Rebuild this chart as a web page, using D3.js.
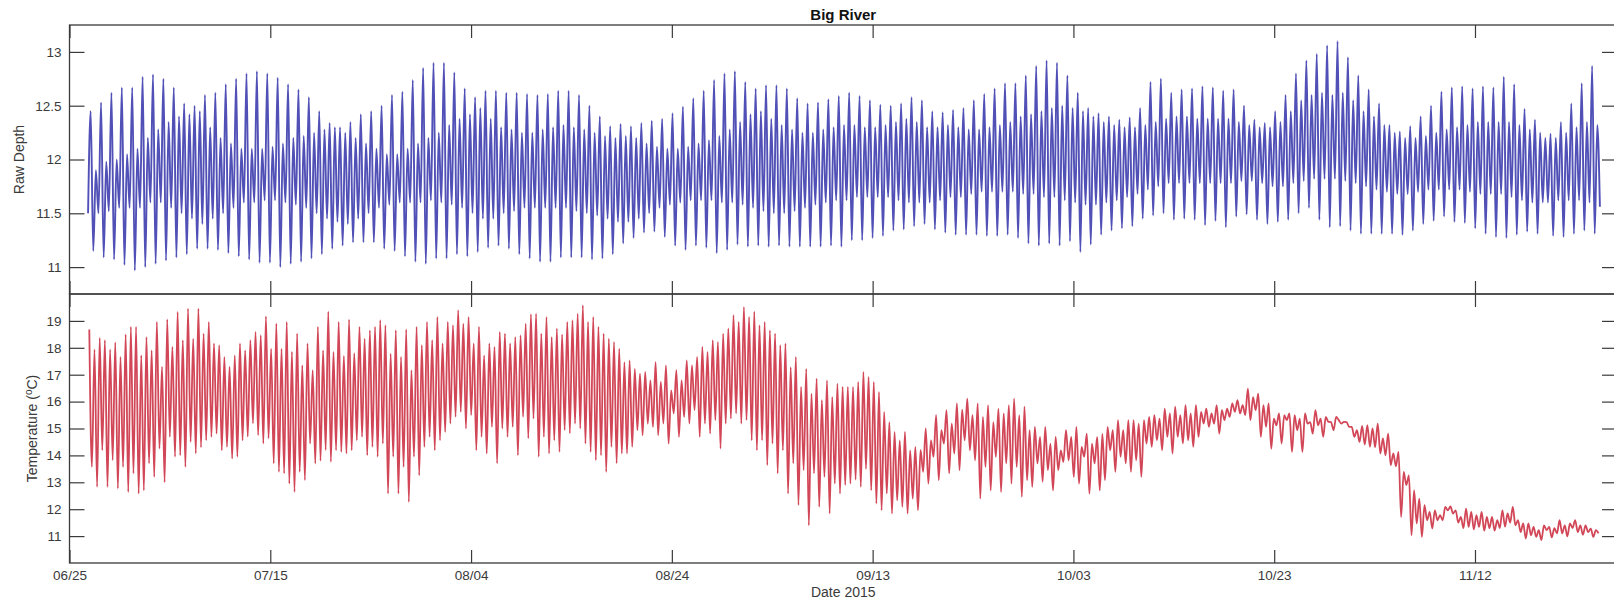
<!DOCTYPE html>
<html>
<head>
<meta charset="utf-8">
<script src="https://cdn.jsdelivr.net/npm/d3@7"></script>
<style>
  html, body { margin: 0; padding: 0; background: #fff; }
  svg { display: block; }
  text { font-family: "Liberation Sans", Arial, Helvetica, sans-serif; }
</style>
</head>
<body>
<svg id="chart" width="1614" height="603"></svg>
<script>
// ---- Axis labels and ticks ----
const dateTicks = ["06/25", "07/15", "08/04", "08/24", "09/13", "10/03", "10/23", "11/12"];
const depthTicks = [11, 11.5, 12, 12.5, 13];
const tempTicks = [11, 12, 13, 14, 15, 16, 17, 18, 19];

// ---- Logger series: tidal extremes, four per tidal day (24.84 h) ----
// Each tidal day: high A, low A, high B, low B, a quarter tidal day apart.
const tidalDayHours = 24.84;
const depthFirstHigh = "2015-06-27T02:36Z";
const depthLead = 11.5;

const depthHighA = [
  12.45,12.53,12.62,12.67,12.67,12.77,12.79,12.75,12.67,12.52,
  12.50,12.60,12.62,12.70,12.75,12.80,12.82,12.80,12.76,12.70,
  12.65,12.58,12.45,12.34,12.30,12.35,12.42,12.45,12.50,12.60,
  12.63,12.74,12.85,12.90,12.90,12.81,12.66,12.58,12.64,12.64,
  12.62,12.62,12.61,12.60,12.61,12.64,12.64,12.60,12.50,12.40,
  12.31,12.33,12.31,12.34,12.36,12.38,12.43,12.49,12.57,12.64,
  12.74,12.80,12.82,12.72,12.66,12.69,12.69,12.66,12.57,12.52,
  12.53,12.56,12.59,12.62,12.59,12.55,12.51,12.50,12.52,12.58,
  12.55,12.45,12.44,12.46,12.48,12.55,12.61,12.66,12.71,12.71,
  12.78,12.87,12.92,12.90,12.78,12.62,12.48,12.43,12.40,12.37,
  12.39,12.48,12.72,12.75,12.62,12.65,12.66,12.68,12.67,12.64,
  12.65,12.50,12.37,12.34,12.45,12.60,12.80,12.92,12.98,13.06,
  13.10,12.95,12.78,12.65,12.52,12.32,12.26,12.31,12.40,12.50,
  12.63,12.67,12.68,12.66,12.68,12.67,12.77,12.70,12.47,12.37,
  12.20,12.20,12.25,12.30,12.35,12.32
];
const depthLowA = [
  11.15,11.09,11.07,11.02,10.97,11.00,11.03,11.06,11.09,11.12,
  11.17,11.17,11.16,11.13,11.10,11.07,11.04,11.04,11.00,11.03,
  11.05,11.08,11.12,11.17,11.20,11.23,11.23,11.23,11.17,11.15,
  11.10,11.05,11.03,11.08,11.08,11.12,11.10,11.14,11.18,11.20,
  11.17,11.12,11.08,11.05,11.05,11.09,11.09,11.09,11.07,11.08,
  11.12,11.22,11.27,11.32,11.33,11.28,11.20,11.16,11.20,11.18,
  11.13,11.16,11.21,11.19,11.20,11.19,11.20,11.19,11.19,11.19,
  11.19,11.20,11.19,11.25,11.25,11.27,11.29,11.34,11.35,11.38,
  11.40,11.35,11.32,11.30,11.30,11.30,11.29,11.29,11.30,11.27,
  11.22,11.20,11.22,11.20,11.24,11.14,11.21,11.30,11.34,11.36,
  11.38,11.45,11.48,11.50,11.44,11.45,11.44,11.39,11.43,11.37,
  11.47,11.49,11.44,11.40,11.42,11.44,11.50,11.55,11.44,11.37,
  11.38,11.34,11.31,11.31,11.31,11.31,11.30,11.34,11.40,11.43,
  11.47,11.42,11.41,11.36,11.31,11.28,11.27,11.30,11.33,11.31,
  11.60,11.62,11.62,11.62,11.60,11.56
];
const depthHighB = [
  11.90,11.98,12.00,12.05,12.10,12.20,12.28,12.35,12.40,12.42,
  12.45,12.30,12.20,12.15,12.10,12.10,12.10,12.12,12.15,12.20,
  12.22,12.25,12.28,12.30,12.25,12.20,12.15,12.10,12.05,12.05,
  12.10,12.15,12.20,12.25,12.32,12.38,12.42,12.48,12.38,12.30,
  12.28,12.25,12.25,12.28,12.30,12.32,12.30,12.28,12.25,12.22,
  12.20,12.22,12.20,12.15,12.12,12.10,12.10,12.12,12.15,12.18,
  12.22,12.28,12.35,12.42,12.45,12.38,12.32,12.28,12.25,12.25,
  12.28,12.30,12.32,12.32,12.30,12.30,12.32,12.35,12.38,12.35,
  12.30,12.30,12.32,12.30,12.28,12.28,12.30,12.32,12.35,12.40,
  12.42,12.45,12.48,12.50,12.48,12.45,12.40,12.35,12.32,12.30,
  12.30,12.32,12.35,12.38,12.40,12.40,12.38,12.38,12.38,12.38,
  12.35,12.32,12.30,12.30,12.35,12.45,12.55,12.60,12.62,12.60,
  12.62,12.55,12.45,12.40,12.32,12.25,12.20,12.20,12.22,12.25,
  12.28,12.30,12.32,12.35,12.35,12.35,12.35,12.32,12.28,12.25,
  12.24,12.35,12.52,12.71,12.87
];
const depthLowB = [
  11.50,11.52,11.55,11.55,11.55,11.60,11.60,11.55,11.50,11.45,
  11.40,11.45,11.50,11.55,11.60,11.60,11.62,11.62,11.60,11.58,
  11.55,11.50,11.45,11.42,11.40,11.45,11.50,11.55,11.58,11.60,
  11.60,11.60,11.62,11.60,11.58,11.55,11.50,11.45,11.45,11.50,
  11.52,11.55,11.55,11.55,11.55,11.55,11.52,11.50,11.48,11.45,
  11.42,11.42,11.45,11.50,11.55,11.58,11.60,11.62,11.62,11.62,
  11.60,11.60,11.58,11.55,11.52,11.50,11.50,11.52,11.55,11.58,
  11.60,11.62,11.62,11.65,11.65,11.65,11.65,11.62,11.60,11.60,
  11.60,11.62,11.65,11.65,11.68,11.70,11.70,11.70,11.70,11.68,
  11.68,11.65,11.65,11.62,11.60,11.58,11.58,11.60,11.62,11.65,
  11.68,11.72,11.75,11.78,11.78,11.78,11.78,11.78,11.78,11.78,
  11.80,11.80,11.78,11.75,11.75,11.78,11.80,11.82,11.82,11.82,
  11.80,11.78,11.75,11.72,11.70,11.68,11.68,11.70,11.72,11.72,
  11.72,11.72,11.70,11.68,11.68,11.68,11.65,11.62,11.60,11.60,
  11.29,11.28,11.31,11.34,11.31
];

const tempFirstHigh = "2015-06-26T23:20Z";
const tempHighA = [
  18.68,18.37,17.94,17.66,18.78,17.72,17.90,17.30,18.03,18.28,
  18.34,18.53,18.16,17.66,17.72,17.90,18.59,19.17,18.90,18.96,
  18.53,18.16,18.78,19.34,18.96,19.05,18.78,18.65,19.03,17.78,
  17.66,17.17,18.10,18.28,18.16,18.84,18.90,18.16,17.72,18.03,
  18.53,18.40,18.90,19.27,19.15,18.72,18.96,19.27,18.96,18.78,
  18.34,17.97,17.53,17.04,16.79,16.73,16.42,16.79,17.35,18.03,
  18.28,18.53,19.21,19.52,19.34,18.96,18.53,18.16,17.66,17.22,
  16.85,16.79,16.67,16.55,16.73,16.92,16.36,15.24,14.56,14.19,
  14.20,14.56,14.94,15.18,15.70,15.50,15.43,15.24,15.56,16.11,
  15.81,15.06,15.06,14.69,14.94,15.06,14.81,14.69,15.06,15.31,
  15.31,15.18,15.43,15.37,15.56,15.50,15.56,15.62,15.56,15.68,
  15.93,15.87,16.17,15.87,15.37,15.50,15.50,15.56,15.68,15.43,
  15.43,15.24,14.94,15.12,15.18,14.81,14.13,13.26,12.39,11.90,
  11.78,12.10,11.71,11.90,11.90,11.71,11.96,12.09,11.47,11.34,
  11.40,11.30,11.40,11.59,11.40,11.22
];
const tempLowA = [
  13.57,14.19,13.82,13.57,13.33,12.70,13.20,13.00,13.95,13.57,
  14.07,14.56,14.81,14.32,13.95,14.70,14.75,14.63,13.39,12.95,
  13.39,14.44,13.80,13.76,14.13,14.19,14.69,14.32,14.44,13.95,
  13.57,13.95,14.32,14.19,14.87,15.43,15.00,14.19,14.07,13.70,
  14.69,14.00,14.63,13.95,14.07,14.13,14.82,15.00,14.13,14.00,
  14.32,14.07,14.32,14.75,15.06,15.18,15.56,15.43,15.68,15.18,
  15.31,15.18,15.56,15.31,14.19,13.64,13.33,12.58,12.15,11.40,
  12.09,11.84,12.58,12.95,12.83,12.70,11.96,11.84,12.09,12.39,
  13.39,13.95,14.44,14.07,14.56,13.82,13.57,13.95,13.70,13.57,
  13.08,13.70,13.45,13.45,13.82,12.95,12.58,12.70,14.19,13.95,
  13.39,13.20,14.32,14.19,14.07,14.44,14.32,15.18,15.18,15.31,
  15.62,15.50,15.68,15.06,15.12,15.31,14.94,15.18,15.12,15.25,
  15.31,15.06,14.50,14.32,14.07,13.64,11.71,11.03,10.97,11.28,
  11.59,11.84,11.30,11.25,11.20,11.20,11.35,11.40,10.91,10.97,
  11.22,11.10,10.99,11.15,11.15,11.10
];
const tempHighB = [
  17.94,18.28,18.20,18.50,18.78,18.40,18.96,19.06,19.33,19.46,
  19.46,18.96,18.10,17.30,18.16,18.28,18.47,17.97,17.97,17.85,
  17.35,17.17,17.90,17.85,17.70,17.80,18.34,18.78,18.84,18.65,
  18.68,18.78,18.96,19.15,18.96,19.40,19.15,18.78,18.16,18.59,
  18.16,18.47,19.25,18.53,18.40,18.50,19.03,19.58,19.15,18.53,
  18.22,17.47,17.22,17.10,17.47,17.35,17.17,17.53,17.66,17.85,
  18.22,18.72,18.96,19.15,18.84,18.65,18.10,17.28,16.55,16.30,
  16.05,16.17,16.55,16.55,17.10,16.73,15.62,14.87,14.87,14.32,
  15.00,15.50,15.68,15.93,16.11,15.93,15.87,15.74,15.87,15.50,
  14.94,14.69,14.44,14.19,14.69,14.32,14.44,14.80,14.94,14.94,
  15.31,15.31,15.50,15.74,15.81,15.87,15.87,15.74,15.87,15.74,
  16.05,16.48,16.30,15.93,15.56,15.56,15.37,15.24,15.37,15.24,
  15.18,15.06,15.10,15.00,14.63,14.07,13.39,12.70,12.15,11.96,
  12.09,11.96,12.02,11.78,11.71,11.59,11.84,11.59,11.47,11.22,
  11.34,11.59,11.47,11.40,11.28
];
const tempLowB = [
  12.83,12.83,12.77,12.64,12.58,13.70,14.25,14.69,14.00,14.50,
  14.30,14.69,14.19,13.88,14.56,15.19,14.44,13.70,13.33,12.64,
  13.08,13.70,14.20,14.19,14.07,14.56,14.00,13.95,12.58,12.58,
  12.27,13.26,14.69,14.56,15.18,15.62,15.50,14.69,15.06,15.00,
  15.06,15.43,15.37,14.69,14.56,14.94,15.18,14.44,13.82,13.39,
  13.70,14.07,14.94,15.18,14.75,14.44,14.69,15.18,14.69,14.81,
  14.25,15.37,15.18,14.56,14.56,14.44,14.19,13.70,13.45,13.33,
  13.20,12.95,12.90,13.10,13.50,12.21,12.58,12.33,11.84,11.96,
  12.95,13.08,13.33,13.45,14.19,12.39,12.70,12.64,12.95,12.46,
  12.83,13.02,12.70,13.76,13.20,13.95,13.70,13.08,13.39,13.70,
  13.82,14.44,14.56,14.69,14.69,14.56,14.69,15.06,14.81,15.43,
  15.56,15.31,14.69,14.25,14.44,14.13,14.13,14.81,14.69,14.94,
  15.25,14.69,14.40,14.30,14.00,13.60,12.90,11.47,11.59,11.59,
  11.96,11.50,11.34,11.34,11.30,11.30,11.50,11.15,11.03,10.85,
  10.95,11.10,11.30,11.05,10.97
];

// ---- Layout ----
const left = 69.5, right = 1617;
const depthTop = 25, depthBottom = 294;
const tempTop = 294, tempBottom = 563;
const axisColor = "#3a3a3a";

const svg = d3.select("#chart");

const parseTick = d3.utcParse("%m/%d/%Y");
const tickDates = dateTicks.map(s => parseTick(s + "/2015"));

const x = d3.scaleUtc()
  .domain([Date.UTC(2015, 5, 25), Date.UTC(2015, 10, 26, 3, 30)])
  .range([left, right]);

const yDepth = d3.scaleLinear().domain([10.75, 13.25]).range([depthBottom, depthTop]);
const yTemp = d3.scaleLinear().domain([10, 20]).range([tempBottom, tempTop]);

function buildSeries(firstIso, highA, lowA, highB, lowB, lead) {
  const step = tidalDayHours * 3600 * 1000;
  const q = step / 4;
  const first = Date.parse(firstIso);
  const pts = [];
  if (lead !== undefined) pts.push({ t: first - q, v: lead });
  highA.forEach((v, k) => {
    const t0 = first + k * step;
    pts.push({ t: t0, v });
    if (lowA[k] !== undefined) pts.push({ t: t0 + q, v: lowA[k] });
    if (highB[k] !== undefined) pts.push({ t: t0 + 2 * q, v: highB[k] });
    if (lowB[k] !== undefined) pts.push({ t: t0 + 3 * q, v: lowB[k] });
  });
  return pts;
}

const depthSeries = buildSeries(depthFirstHigh, depthHighA, depthLowA, depthHighB, depthLowB, depthLead);
const tempSeries = buildSeries(tempFirstHigh, tempHighA, tempLowA, tempHighB, tempLowB);

// clip regions
const defs = svg.append("defs");
defs.append("clipPath").attr("id", "clipDepth").append("rect")
  .attr("x", left).attr("y", depthTop).attr("width", right - left).attr("height", depthBottom - depthTop);
defs.append("clipPath").attr("id", "clipTemp").append("rect")
  .attr("x", left).attr("y", tempTop).attr("width", right - left).attr("height", tempBottom - tempTop);

// data lines
const depthLine = d3.line().x(d => x(d.t)).y(d => yDepth(d.v)).curve(d3.curveMonotoneX);
const tempLine = d3.line().x(d => x(d.t)).y(d => yTemp(d.v)).curve(d3.curveMonotoneX);

svg.append("path")
  .datum(depthSeries)
  .attr("clip-path", "url(#clipDepth)")
  .attr("fill", "none")
  .attr("stroke", "#2a2aa6")
  .attr("stroke-opacity", 0.82)
  .attr("stroke-width", 1.9)
  .attr("stroke-linejoin", "round")
  .attr("d", depthLine);

svg.append("path")
  .datum(tempSeries)
  .attr("clip-path", "url(#clipTemp)")
  .attr("fill", "none")
  .attr("stroke", "#c81f33")
  .attr("stroke-opacity", 0.82)
  .attr("stroke-width", 1.8)
  .attr("stroke-linejoin", "round")
  .attr("d", tempLine);

// axes
function styleAxis(g) {
  g.select(".domain").remove();
  g.selectAll(".tick line").attr("stroke", axisColor).attr("stroke-width", 1.2);
  g.selectAll(".tick text")
    .attr("fill", axisColor)
    .attr("font-size", 13.5)
    .attr("font-family", "'Liberation Sans', Arial, Helvetica, sans-serif");
}

const yTickLen = 15, xTickLen = 13;

// depth panel
svg.append("g").attr("transform", `translate(${left},0)`)
  .call(d3.axisLeft(yDepth).tickValues(depthTicks).tickSizeInner(-yTickLen).tickSizeOuter(0)
    .tickPadding(8).tickFormat(d => String(d)))
  .call(styleAxis);
svg.append("g").attr("transform", `translate(${right},0)`)
  .call(d3.axisRight(yDepth).tickValues(depthTicks).tickSizeInner(-yTickLen).tickSizeOuter(0).tickFormat(""))
  .call(styleAxis);
svg.append("g").attr("transform", `translate(0,${depthTop})`)
  .call(d3.axisTop(x).tickValues(tickDates).tickSizeInner(-xTickLen).tickSizeOuter(0).tickFormat(""))
  .call(styleAxis);
svg.append("g").attr("transform", `translate(0,${depthBottom})`)
  .call(d3.axisBottom(x).tickValues(tickDates).tickSizeInner(-xTickLen).tickSizeOuter(0).tickFormat(""))
  .call(styleAxis);

// temperature panel
svg.append("g").attr("transform", `translate(${left},0)`)
  .call(d3.axisLeft(yTemp).tickValues(tempTicks).tickSizeInner(-yTickLen).tickSizeOuter(0)
    .tickPadding(8).tickFormat(d => String(d)))
  .call(styleAxis);
svg.append("g").attr("transform", `translate(${right},0)`)
  .call(d3.axisRight(yTemp).tickValues(tempTicks).tickSizeInner(-yTickLen).tickSizeOuter(0).tickFormat(""))
  .call(styleAxis);
svg.append("g").attr("transform", `translate(0,${tempTop})`)
  .call(d3.axisTop(x).tickValues(tickDates).tickSizeInner(-xTickLen).tickSizeOuter(0).tickFormat(""))
  .call(styleAxis);
svg.append("g").attr("transform", `translate(0,${tempBottom})`)
  .call(d3.axisBottom(x).tickValues(tickDates).tickSizeInner(-xTickLen).tickSizeOuter(0)
    .tickPadding(7).tickFormat((d, i) => dateTicks[i]))
  .call(styleAxis);

// panel frames
[[depthTop, depthBottom], [tempTop, tempBottom]].forEach(([t, b]) => {
  svg.append("rect")
    .attr("x", left).attr("y", t)
    .attr("width", right - left).attr("height", b - t)
    .attr("fill", "none").attr("stroke", axisColor).attr("stroke-width", 1.3);
});

// titles and labels
svg.append("text")
  .attr("x", (left + right) / 2).attr("y", 20)
  .attr("text-anchor", "middle")
  .attr("font-size", 15).attr("font-weight", "bold").attr("fill", "#111")
  .text("Big River");

svg.append("text")
  .attr("transform", `translate(23.5,${(depthTop + depthBottom) / 2}) rotate(-90)`)
  .attr("text-anchor", "middle")
  .attr("font-size", 14).attr("fill", axisColor)
  .text("Raw Depth");

const tLabel = svg.append("text")
  .attr("transform", `translate(37,${(tempTop + tempBottom) / 2}) rotate(-90)`)
  .attr("text-anchor", "middle")
  .attr("font-size", 14).attr("fill", axisColor);
tLabel.append("tspan").text("Temperature (");
tLabel.append("tspan").attr("font-size", 10).attr("dy", -5).text("o");
tLabel.append("tspan").attr("dy", 5).text("C)");

svg.append("text")
  .attr("x", (left + right) / 2).attr("y", 597)
  .attr("text-anchor", "middle")
  .attr("font-size", 14).attr("fill", axisColor)
  .text("Date 2015");
</script>
</body>
</html>
